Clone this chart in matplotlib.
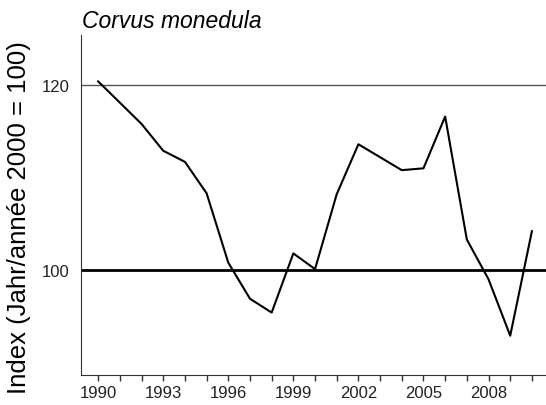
import matplotlib
matplotlib.use('Agg')
import matplotlib.pyplot as plt

plt.rcParams['font.family'] = ['Liberation Sans', 'DejaVu Sans']

years = list(range(1990, 2011))
index = [120.4, 118.1, 115.8, 112.9, 111.7, 108.3, 100.8, 96.9, 95.4, 101.8,
         100.1, 108.2, 113.6, 112.2, 110.8, 111.0, 116.6, 103.3, 99.0, 92.9, 104.2]
xtick_labels = [str(y) if (y - 1990) % 3 == 0 else '' for y in years]

fig = plt.figure(figsize=(5.46, 4.06), dpi=100)
ax = fig.add_axes([0.148, 0.075, 0.852, 0.836])

ax.axhline(120, color='#555555', linewidth=1.0)
ax.axhline(100, color='black', linewidth=2.0)
ax.plot(years, index, color='black', linewidth=1.5)

ax.set_xlim(1989.2, 2010.65)
ax.set_ylim(88.7, 125.4)
ax.set_xticks(years)
ax.set_xticklabels(xtick_labels, fontsize=12, color='#222222')
ax.set_yticks([100, 120])
ax.set_yticklabels(['100', '120'], fontsize=12, color='#222222')
ax.tick_params(axis='x', direction='out', length=4.5, width=1, color='#333333', pad=3)
ax.tick_params(axis='y', length=0, pad=8)

for s in ['top', 'right']:
    ax.spines[s].set_visible(False)
ax.spines['left'].set_color('#333333')
ax.spines['bottom'].set_color('#333333')

ax.set_ylabel('Index (Jahr/année 2000 = 100)', fontsize=18.5)
ax.yaxis.set_label_coords(-0.108, 0.465)
fig.text(0.15, 0.93, 'Corvus monedula', fontsize=16.5, style='italic')

fig.savefig('out.png', dpi=100)
